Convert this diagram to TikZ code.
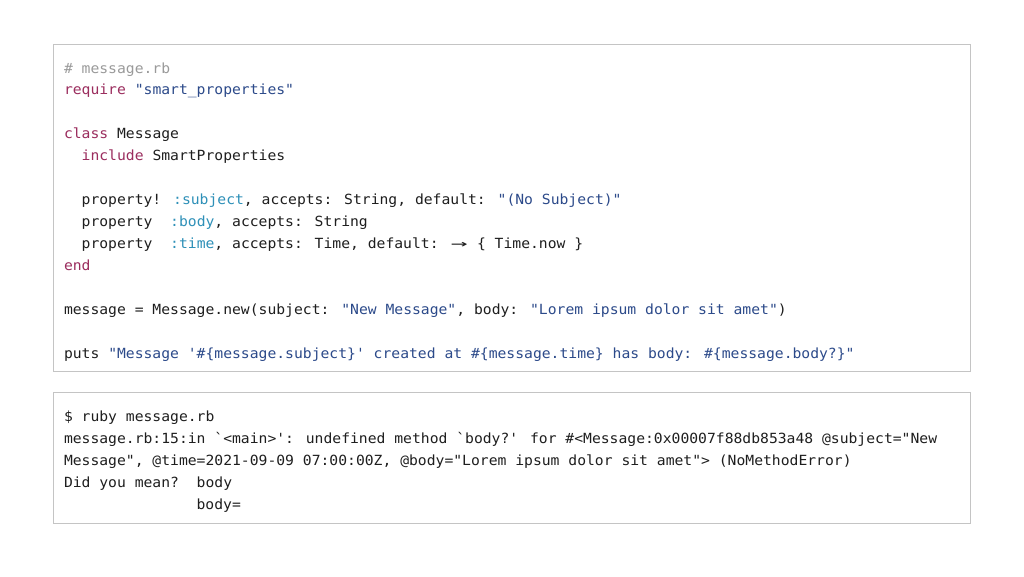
\documentclass[tikz,border=0pt]{standalone}
\usepackage{graphicx}
\usepackage{fontspec}
\newfontfamily\codefont[FakeStretch=1.05]{DejaVu Sans Mono}
\definecolor{ink}{HTML}{1E1E1E}
\definecolor{kw}{HTML}{9B2D5E}
\definecolor{str}{HTML}{2C4A8A}
\definecolor{sym}{HTML}{2E90B8}
\definecolor{cmt}{HTML}{9A9A9A}
\definecolor{frame}{HTML}{C4C4C4}
\newcommand{\K}[1]{\textcolor{kw}{#1}}
\newcommand{\Str}[1]{\textcolor{str}{#1}}
\newcommand{\Sym}[1]{\textcolor{sym}{#1}}
\begin{document}
\begin{tikzpicture}[x=1pt,y=-1pt,
  codeline/.style={anchor=base west, inner sep=0pt, outer sep=0pt, text=ink,
    font=\codefont\fontsize{14pt}{18pt}\selectfont},
  codebox/.style={draw=frame, line width=1pt, fill=white}]
\useasboundingbox[fill=white] (0,0) rectangle (1024,576);
\draw[codebox] (53.5,44) rectangle (970.5,371.7);
\draw[codebox] (53.5,392.7) rectangle (970.5,523.3);
% top box code
\node[codeline] (l1) at (64,73) {\textcolor{cmt}{\# message.rb}};
\node[codeline] (l2) at (64,94.95) {\K{require} \Str{"smart\_properties"}};
\node[codeline] (l4) at (64,138.85) {\K{class} Message};
\node[codeline] (l5) at (81.7,160.8) {\K{include} SmartProperties};
\node[codeline] (l7) at (81.7,204.7) {property! \Sym{:subject}, accepts: String, default: \Str{"(No Subject)"}};
\node[codeline] (l8) at (81.7,226.65) {property\ \ \Sym{:body}, accepts: String};
\node[codeline] (l9) at (81.7,248.6) {property\ \ \Sym{:time}, accepts: Time, default: \makebox[17.7pt][c]{\scalebox{1.9}[1]{→}} \{ Time.now \}};
\node[codeline] (l10) at (64,270.55) {\K{end}};
\node[codeline] (l12) at (64,314.45) {message = Message.new(subject: \Str{"New Message"}, body: \Str{"Lorem ipsum dolor sit amet"})};
\node[codeline] (l14) at (64,358.35) {puts \Str{"Message '\#\{message.subject\}' created at \#\{message.time\} has body: \#\{message.body?\}"}};
% bottom box output
\node[codeline] (b1) at (64,421) {\$ ruby message.rb};
\node[codeline] (b2) at (64,443) {message.rb:15:in `<main>': undefined method `body?' for \#<Message:0x00007f88db853a48 @subject="New};
\node[codeline] (b3) at (64,465) {Message", @time=2021-09-09 07:00:00Z, @body="Lorem ipsum dolor sit amet"> (NoMethodError)};
\node[codeline] (b4) at (64,487) {Did you mean?\ \ body};
\node[codeline] (b5) at (196.6,509) {body=};
\end{tikzpicture}
\end{document}
